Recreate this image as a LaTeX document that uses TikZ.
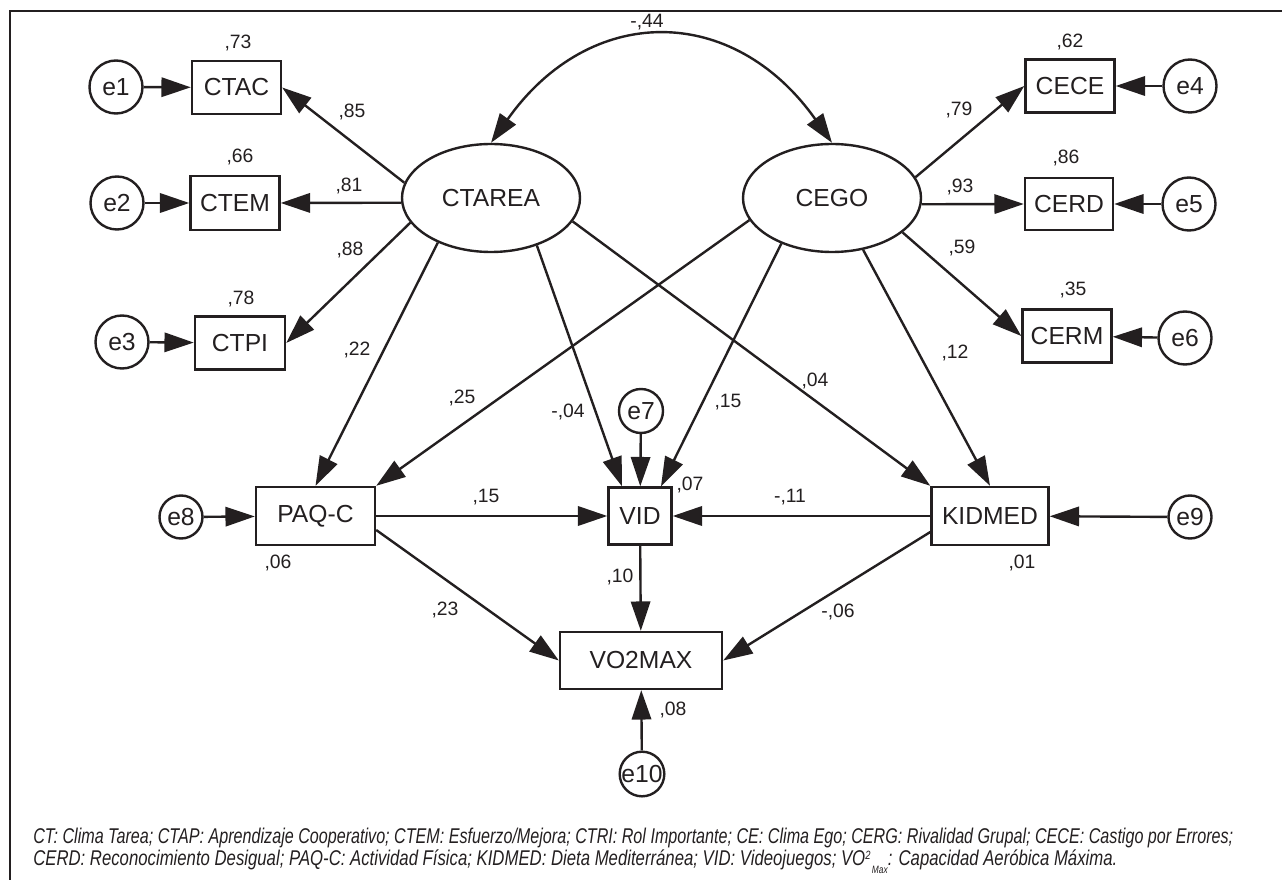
\documentclass[tikz,border=0pt]{standalone}
\usepackage{fontspec}
\setmainfont{Liberation Sans}
\usepackage{graphicx}
\usetikzlibrary{arrows.meta,shapes.geometric,calc}
\definecolor{ink}{RGB}{35,31,32}
\def\pxu{0.75pt}
\begin{document}
\begin{tikzpicture}[x=0.75pt,y=-0.75pt,
  every node/.style={text=ink},
  lat/.style={ellipse,draw=ink,line width=1.8pt,inner sep=0,minimum width=178*\pxu,minimum height=108*\pxu,font=\fontsize{18.5pt}{20pt}\selectfont},
  obs/.style={rectangle,draw=ink,line width=1.8pt,inner sep=0,minimum width=89*\pxu,minimum height=53*\pxu,font=\fontsize{18.5pt}{20pt}\selectfont},
  err/.style={circle,draw=ink,line width=1.8pt,inner sep=0,minimum size=53*\pxu,font=\fontsize{18.5pt}{20pt}\selectfont},
  serr/.style={err,minimum size=43*\pxu},
  coef/.style={inner sep=0,font=\fontsize{14.5pt}{16pt}\selectfont},
  arr/.style={draw=ink,line width=1.8pt,-{Triangle[length=22pt,width=14.5pt]}},
  cov/.style={draw=ink,line width=1.8pt,{Triangle[length=22pt,width=14.5pt]}-{Triangle[length=22pt,width=14.5pt]}},
  frame/.style={draw=ink,line width=2.2pt},
  captext/.style={anchor=west,inner sep=0,font=\fontsize{16pt}{18pt}\selectfont\itshape}
]
\useasboundingbox (0,0) rectangle (1282,880);
\coordinate (fr1) at (1282,11);
\coordinate (fr2) at (10,11);
\coordinate (fr3) at (10,880);
\draw[frame] (fr1) -- (fr2) -- (fr3);

% latent variables
\node[lat] (CTAREA) at (491,198) {CTAREA};
\node[lat] (CEGO) at (832,198) {CEGO};

% left indicators
\node[err] (e1) at (116,87) {e1};
\node[obs] (CTAC) at (236.5,87.5) {CTAC};
\node[err] (e2) at (117,203) {e2};
\node[obs,minimum height=54*\pxu] (CTEM) at (235,203) {CTEM};
\node[err] (e3) at (122,342) {e3};
\node[obs,minimum width=90*\pxu] (CTPI) at (240,343) {CTPI};

% right indicators
\node[obs] (CECE) at (1070,86) {CECE};
\node[err] (e4) at (1190,86) {e4};
\node[obs,minimum width=88*\pxu,minimum height=52*\pxu] (CERD) at (1069,204) {CERD};
\node[err] (e5) at (1189,204) {e5};
\node[obs] (CERM) at (1067,336) {CERM};
\node[err] (e6) at (1185,338) {e6};

% structural part
\node[serr] (e8) at (181,517) {e8};
\node[obs,minimum width=119*\pxu,minimum height=58*\pxu] (PAQ) at (315.5,516) {PAQ-C};
\node[obs,minimum width=63*\pxu,minimum height=57*\pxu] (VID) at (640,516) {VID};
\node[serr,minimum size=44*\pxu] (e7) at (641,411) {e7};
\node[obs,minimum width=117*\pxu,minimum height=58*\pxu] (KID) at (990,516) {KIDMED};
\node[serr] (e9) at (1190,517) {e9};
\node[obs,minimum width=162*\pxu,minimum height=57*\pxu] (VO2) at (641,660.5) {VO2MAX};
\node[serr] (e10) at (642,774) {e10};

% covariance
\draw[cov] (CTAREA.north) .. controls (590,3) and (733,3) .. (CEGO.north);

% loadings
\draw[arr] (CTAREA.170) -- (CTAC.east);
\draw[arr] (CTAREA.183) -- (CTEM.east);
\draw[arr] (CTAREA.197) -- (CTPI.east);
\draw[arr] (CEGO.14) -- (CECE.west);
\draw[arr] (CEGO.356) -- (CERD.west);
\draw[arr] (CEGO.334) -- (CERM.west);

% errors
\draw[arr] (e1) -- (CTAC);
\draw[arr] (e2) -- (CTEM);
\draw[arr] (e3) -- (CTPI);
\draw[arr] (e4) -- (CECE);
\draw[arr] (e5) -- (CERD);
\draw[arr] (e6) -- (CERM);
\draw[arr] (e7) -- (VID);
\draw[arr] (e8) -- (PAQ);
\draw[arr] (e9) -- (KID);
\draw[arr] (e10) -- (VO2);

% paths
\draw[arr] (CTAREA.220) -- (PAQ.north);
\draw[arr] (CTAREA.314) -- ($(VID.north)+(-18,0)$);
\draw[arr] (CTAREA.344) -- (KID.north west);
\draw[arr] (CEGO.195) -- (PAQ.north east);
\draw[arr] (CEGO.222) -- ($(VID.north)+(21,0)$);
\draw[arr] (CEGO.301) -- (KID.north);
\draw[arr] (PAQ.east) -- (VID.west);
\draw[arr] (KID.west) -- (VID.east);
\draw[arr] (VID) -- (VO2);
\draw[arr] ($(PAQ.east)+(0,14)$) -- (VO2.west);
\draw[arr] ($(KID.west)+(0,16)$) -- (VO2.east);

% coefficients
\node[coef] (c44) at (647,22) {-,44};
\node[coef] (c73) at (238,43) {,73};
\node[coef] (c66) at (240,157) {,66};
\node[coef] (c78) at (241,299) {,78};
\node[coef] (c85) at (352,112) {,85};
\node[coef] (c81) at (349,186) {,81};
\node[coef] (c88) at (350,250) {,88};
\node[coef] (c22) at (357,350) {,22};
\node[coef] (c62) at (1070,42) {,62};
\node[coef] (c86) at (1066,158) {,86};
\node[coef] (c35) at (1073,290) {,35};
\node[coef] (c79) at (959,110) {,79};
\node[coef] (c93) at (960,187) {,93};
\node[coef] (c59) at (962,248) {,59};
\node[coef] (c12) at (955,353) {,12};
\node[coef] (c25) at (462,398) {,25};
\node[coef] (cm04) at (568,412) {-,04};
\node[coef] (c15a) at (486,497) {,15};
\node[coef] (c06) at (278,563) {,06};
\node[coef] (c23) at (445,610) {,23};
\node[coef] (c10) at (620,577) {,10};
\node[coef] (c15b) at (728,402) {,15};
\node[coef] (c04) at (815,381) {,04};
\node[coef] (c07) at (690,485) {,07};
\node[coef] (cm11) at (790,497) {-,11};
\node[coef] (c01) at (1022,563) {,01};
\node[coef] (cm06) at (838,612) {-,06};
\node[coef] (c08) at (673,710) {,08};

% caption
\node[captext] (cap1) at (33,838) {\resizebox{900pt}{\height}{CT: Clima Tarea; CTAP: Aprendizaje Cooperativo; CTEM: Esfuerzo/Mejora; CTRI: Rol Importante; CE: Clima Ego; CERG: Rivalidad Grupal; CECE: Castigo por Errores;}};
\node[captext] (cap2) at (33,862) {\resizebox{813pt}{\height}{CERD: Reconocimiento Desigual; PAQ-C: Actividad Física; KIDMED: Dieta Mediterránea; VID: Videojuegos; VO\raisebox{0.6ex}{\fontsize{9pt}{10pt}\selectfont 2}\raisebox{-0.7ex}{\fontsize{8pt}{9pt}\selectfont\,Max}: Capacidad Aeróbica Máxima.}};
\end{tikzpicture}
\end{document}
